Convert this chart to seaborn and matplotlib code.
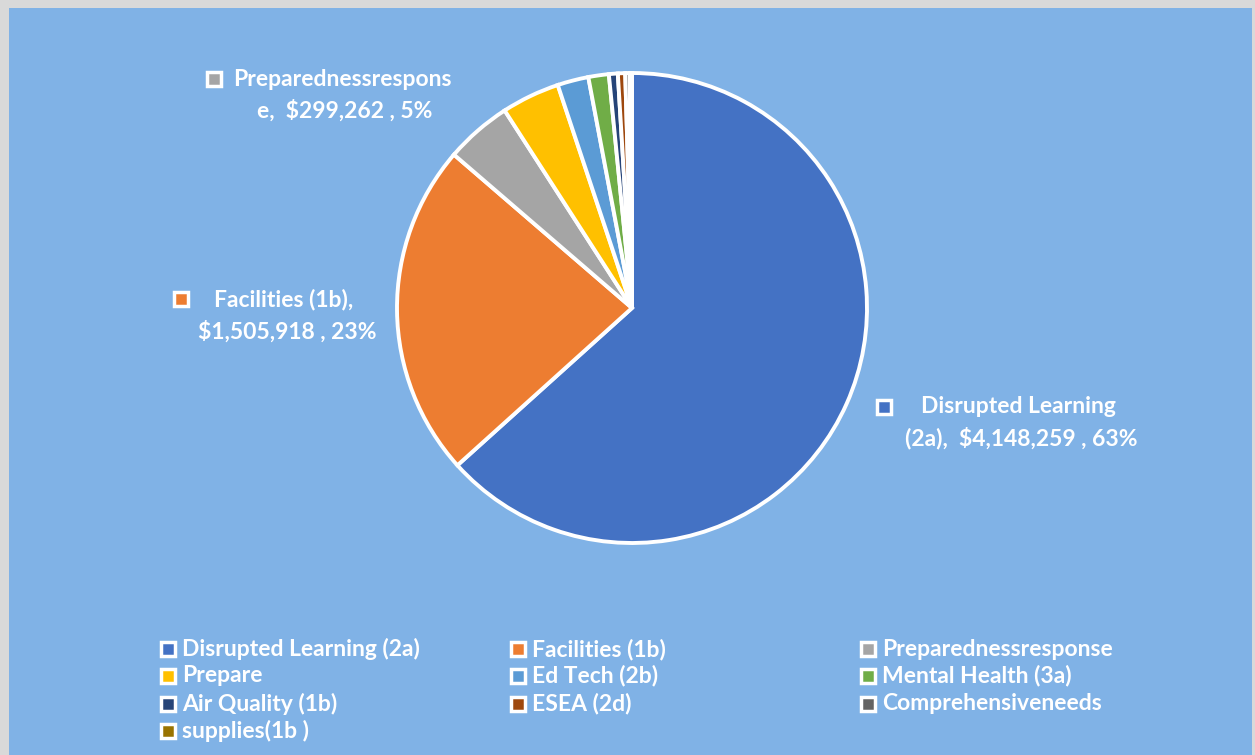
import numpy as np
import pandas as pd
import matplotlib.pyplot as plt
import seaborn as sns
from matplotlib.lines import Line2D
from matplotlib.patches import Rectangle

sns.set_theme(style="white")
plt.rcParams['font.family'] = ['Lato', 'DejaVu Sans']

# data
categories = ["Disrupted Learning (2a)", "Facilities (1b)", "Preparednessresponse",
              "Prepare", "Ed Tech (2b)", "Mental Health (3a)", "Air Quality (1b)",
              "ESEA (2d)", "Comprehensiveneeds", "supplies(1b )"]
amounts = [4148259, 1505918, 299262, 262000, 140000, 92000, 40000, 33000, 20000, 10000]
colors = ["#4472C4", "#ED7D31", "#A5A5A5", "#FFC000", "#5B9BD5",
          "#70AD47", "#264478", "#9E480E", "#636363", "#997300"]

df = pd.DataFrame({"cat": categories, "amount": amounts})
df["pct"] = df["amount"] / df["amount"].sum() * 100

bg = "#80B2E6"
fig = plt.figure(figsize=(12.55, 7.55), dpi=100, facecolor="#D9D9D9")
fig.patches.append(Rectangle((9 / 1255, 0), 1243 / 1255, 747 / 755,
                             transform=fig.transFigure, facecolor=bg,
                             edgecolor="none", zorder=-5))

ax = fig.add_axes([397 / 1255, 212 / 755, 470 / 1255, 470 / 755])
ax.set_zorder(2)
wedges, _ = ax.pie(df["amount"], colors=colors, startangle=90, counterclock=False,
                   wedgeprops=dict(edgecolor="white", linewidth=2.8))
ax.set_xlim(-1, 1)
ax.set_ylim(-1, 1)
ax.set_aspect("equal")
ax.axis("off")
for w in wedges:
    w.set_clip_on(False)


def px(x, y):
    return x / 1255, 1 - y / 755


FS = 16.5
txt = dict(color="white", fontsize=FS, fontweight="bold", va="center", zorder=5)


def marker(i, x, y):
    fig.add_artist(Line2D([px(x, y)[0]], [px(x, y)[1]], marker="s", markersize=10,
                          markerfacecolor=colors[i], markeredgecolor="white",
                          markeredgewidth=2.5, transform=fig.transFigure, zorder=5))


# data labels for the three biggest slices
def label(i, mx, my, line1, x1, line2, x2, y2):
    marker(i, mx, my)
    fig.text(*px(x1, my), line1, ha="left", **txt)
    fig.text(*px(x2, y2), line2, ha="center", **txt)


r = df.iloc[2]
label(2, 214, 79, "Preparednessrespons", 233,
      f"e,  ${r.amount:,.0f} , {r.pct:.0f}%", 345, 111)
r = df.iloc[1]
label(1, 181, 299, "Facilities (1b),", 214,
      f"${r.amount:,.0f} , {r.pct:.0f}%", 287, 332)
r = df.iloc[0]
label(0, 884, 407, "Disrupted Learning", 921,
      f"(2a),  ${r.amount:,.0f} , {r.pct:.0f}%", 1021, 438)

# legend, three columns laid out row-wise
col_x = [168, 518, 868]
row_y = [649, 676, 704, 731]
for i, name in enumerate(categories):
    x = col_x[i % 3]
    y = row_y[i // 3]
    marker(i, x, y)
    fig.text(*px(x + 14, y), name, ha="left", **txt)

fig.savefig("out.png", dpi=100, facecolor=fig.get_facecolor())
